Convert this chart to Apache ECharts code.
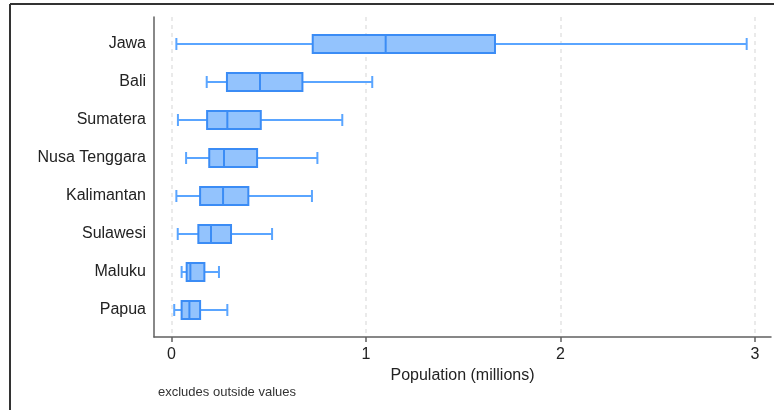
<!DOCTYPE html>
<html>
<head>
<meta charset="utf-8">
<script src="https://cdn.jsdelivr.net/npm/echarts@6/dist/echarts.min.js"></script>
<style>
  html, body { margin: 0; padding: 0; background: #fff; }
  #chart { width: 774px; height: 410px; }
</style>
</head>
<body>
<div id="chart"></div>
<script>
// Island groups, top to bottom
const regions = ['Jawa', 'Bali', 'Sumatera', 'Nusa Tenggara', 'Kalimantan', 'Sulawesi', 'Maluku', 'Papua'];
// Box statistics (millions): lower whisker, Q1, median, Q3, upper whisker
const whiskerLow  = [0.025, 0.181, 0.033, 0.075, 0.025, 0.032, 0.052, 0.014];
const quartile1   = [0.726, 0.285, 0.183, 0.194, 0.147, 0.138, 0.078, 0.052];
const medians     = [1.101, 0.455, 0.287, 0.270, 0.265, 0.203, 0.097, 0.092];
const quartile3   = [1.663, 0.673, 0.459, 0.440, 0.395, 0.306, 0.169, 0.147];
const whiskerHigh = [2.957, 1.032, 0.878, 0.750, 0.722, 0.517, 0.244, 0.287];
const xTicks = [0, 1, 2, 3];

const X_MIN = -0.09, X_MAX = 3.082;
const FONT = 'Liberation Sans, Arial, sans-serif';

const rows = regions.map((r, i) => [i, whiskerLow[i], quartile1[i], medians[i], quartile3[i], whiskerHigh[i]]);

function renderBox(params, api) {
  const idx = api.value(0);
  const pMin = api.coord([api.value(1), idx]);
  const pQ1 = api.coord([api.value(2), idx]);
  const pMed = api.coord([api.value(3), idx]);
  const pQ3 = api.coord([api.value(4), idx]);
  const pMax = api.coord([api.value(5), idx]);
  const y = pMed[1];
  const half = 9, cap = 6;
  const whisk = { stroke: '#5aa5ff', lineWidth: 2 };
  const edge = '#3b8cf5';
  return {
    type: 'group',
    children: [
      { type: 'line', shape: { x1: pMin[0], y1: y, x2: pQ1[0], y2: y }, style: whisk },
      { type: 'line', shape: { x1: pQ3[0], y1: y, x2: pMax[0], y2: y }, style: whisk },
      { type: 'line', shape: { x1: pMin[0], y1: y - cap, x2: pMin[0], y2: y + cap }, style: whisk },
      { type: 'line', shape: { x1: pMax[0], y1: y - cap, x2: pMax[0], y2: y + cap }, style: whisk },
      { type: 'rect', shape: { x: pQ1[0], y: y - half, width: pQ3[0] - pQ1[0], height: half * 2 },
        style: { fill: '#93c3fd', stroke: edge, lineWidth: 2 } },
      { type: 'line', shape: { x1: pMed[0], y1: y - half, x2: pMed[0], y2: y + half },
        style: { stroke: edge, lineWidth: 2 } }
    ]
  };
}

const chart = echarts.init(document.getElementById('chart'), null, { renderer: 'canvas' });
chart.setOption({
  animation: false,
  backgroundColor: '#fff',
  grid: [
    { left: 154, right: 3, top: 17, bottom: 73 },
    { left: 154, right: 3, top: 25, bottom: 81 }
  ],
  xAxis: [
    {
      gridIndex: 0, type: 'value', min: X_MIN, max: X_MAX,
      name: 'Population (millions)', nameLocation: 'middle', nameGap: 29,
      nameTextStyle: { fontFamily: FONT, fontSize: 16, color: '#222' },
      axisLine: { show: true, onZero: false, lineStyle: { color: '#606060', width: 1.5 } },
      axisTick: { show: true, length: 5, customValues: xTicks, lineStyle: { color: '#606060', width: 1.5 } },
      axisLabel: { customValues: xTicks, fontFamily: FONT, fontSize: 16, color: '#222', margin: 10 },
      splitLine: { show: true, lineStyle: { color: '#e3e3e3', width: 1.5, type: [4, 4] } }
    },
    {
      gridIndex: 1, type: 'value', min: X_MIN, max: X_MAX,
      axisLine: { show: false }, axisTick: { show: false }, axisLabel: { show: false }, splitLine: { show: false }
    }
  ],
  yAxis: [
    {
      gridIndex: 0, type: 'value', min: 0, max: 1,
      axisLine: { show: true, onZero: false, lineStyle: { color: '#606060', width: 1.5 } },
      axisTick: { show: false }, axisLabel: { show: false }, splitLine: { show: false }
    },
    {
      gridIndex: 1, type: 'category', data: regions, inverse: true,
      axisLine: { show: false }, axisTick: { show: false },
      axisLabel: { fontFamily: FONT, fontSize: 16, color: '#222', margin: 8 },
      splitLine: { show: false }
    }
  ],
  series: [{
    type: 'custom',
    xAxisIndex: 1, yAxisIndex: 1,
    renderItem: renderBox,
    encode: { y: 0, x: [1, 2, 3, 4, 5] },
    data: rows
  }],
  graphic: [
    { type: 'line', shape: { x1: 10, y1: 4, x2: 774, y2: 4 }, style: { stroke: '#333', lineWidth: 2 } },
    { type: 'line', shape: { x1: 10, y1: 4, x2: 10, y2: 410 }, style: { stroke: '#333', lineWidth: 2 } },
    { type: 'text', left: 158, top: 386,
      style: { text: 'excludes outside values', fontFamily: FONT, fontSize: 13, fill: '#333' } }
  ]
});
</script>
</body>
</html>
